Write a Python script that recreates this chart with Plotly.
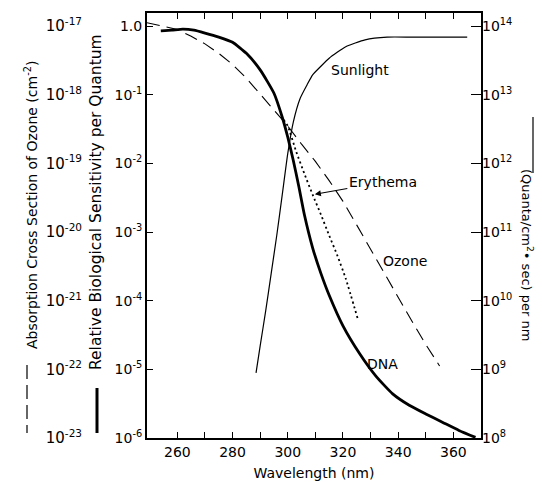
import plotly.graph_objects as go

# ---------------- data ----------------
wl_dna = [254, 258, 262, 266, 270, 275, 280, 285, 290, 295, 298, 300, 302, 304,
          306, 309, 312, 315, 320, 326, 332, 338, 344, 350, 356, 362, 368]
dna = [0.85, 0.87, 0.9, 0.87, 0.79, 0.69, 0.58, 0.40, 0.23, 0.105, 0.047, 0.024,
       0.011, 4.6e-3, 1.8e-3, 5.9e-4, 2.5e-4, 1.2e-4, 4.3e-5, 1.7e-5, 7.9e-6,
       4.4e-6, 3.0e-6, 2.24e-6, 1.7e-6, 1.29e-6, 1.02e-6]

wl_ery = [298.5, 300, 303, 306, 309, 312, 315, 318, 321, 325.5]
erythema = [0.043, 0.035, 0.015, 7.1e-3, 3.5e-3, 1.8e-3, 8.9e-4, 4.5e-4, 2.1e-4, 5.2e-5]

wl_ozone = [249, 255, 260, 265, 270, 275, 280, 285, 290, 295, 300, 305, 310, 315,
            320, 325, 330, 335, 340, 345, 350, 355]
ozone = [1.12e-17, 1.0e-17, 8.9e-18, 7.1e-18, 5.5e-18, 4.0e-18, 2.75e-18, 1.74e-18,
         1.02e-18, 6.0e-19, 3.5e-19, 1.9e-19, 1.07e-19, 5.6e-20, 2.8e-20, 1.26e-20,
         5.6e-21, 2.5e-21, 1.12e-21, 5.0e-22, 2.3e-22, 1.12e-22]

wl_sun = [288.5, 290, 292, 294, 296, 298, 300, 302, 304.5, 307, 309, 312, 315,
          321, 328, 336, 345, 355, 365]
sunlight = [8.9e8, 2.2e9, 7.1e9, 2.5e10, 8.9e10, 3.5e11, 1.4e12, 4.0e12, 8.9e12,
            1.4e13, 1.95e13, 2.6e13, 3.4e13, 5.0e13, 6.3e13, 6.9e13, 6.9e13,
            6.9e13, 6.9e13]

x_tickvals = list(range(260, 370, 10))
x_ticktext = [str(v) if v % 20 == 0 else "" for v in x_tickvals]

rel_tickvals = [1, 1e-1, 1e-2, 1e-3, 1e-4, 1e-5, 1e-6]
rel_ticktext = ["1.0", "10<sup>-1</sup>", "10<sup>-2</sup>", "10<sup>-3</sup>",
                "10<sup>-4</sup>", "10<sup>-5</sup>", "10<sup>-6</sup>"]
oz_tickvals = [1e-17, 1e-18, 1e-19, 1e-20, 1e-21, 1e-22, 1e-23]
oz_ticktext = ["10<sup>-17</sup>", "10<sup>-18</sup>", "10<sup>-19</sup>",
               "10<sup>-20</sup>", "10<sup>-21</sup>", "10<sup>-22</sup>",
               "10<sup>-23</sup>"]
sun_tickvals = [1e14, 1e13, 1e12, 1e11, 1e10, 1e9, 1e8]
sun_ticktext = ["10<sup>14</sup>", "10<sup>13</sup>", "10<sup>12</sup>",
                "10<sup>11</sup>", "10<sup>10</sup>", "10<sup>9</sup>",
                "10<sup>8</sup>"]

FONT = "DejaVu Sans"

# ---------------- geometry helpers (pixels -> paper) ----------------
L, R, T, B = 40, 481, 13, 438
def px(x):
    return (x - L) / (R - L)
def py(y):
    return (B - y) / (B - T)

fig = go.Figure()

fig.add_trace(go.Scatter(x=wl_ozone, y=ozone, yaxis="y2", mode="lines",
                         line=dict(color="black", width=1.1, dash="13px,7px"),
                         showlegend=False))
fig.add_trace(go.Scatter(x=wl_dna, y=dna, mode="lines",
                         line=dict(color="black", width=2.8, shape="spline", smoothing=0.5),
                         showlegend=False))
fig.add_trace(go.Scatter(x=wl_ery, y=erythema, mode="lines",
                         line=dict(color="black", width=1.8, dash="2px,3px",
                                   shape="spline", smoothing=0.5),
                         showlegend=False))
fig.add_trace(go.Scatter(x=wl_sun, y=sunlight, yaxis="y3", mode="lines",
                         line=dict(color="black", width=1.2, shape="spline", smoothing=0.5),
                         showlegend=False))

axis_font = dict(family=FONT, size=14, color="black")

fig.update_layout(
    width=542, height=482,
    margin=dict(l=L, r=542 - R, t=T, b=482 - B, autoexpand=False),
    paper_bgcolor="white", plot_bgcolor="white",
    font=dict(family=FONT, color="black"),
    xaxis=dict(domain=[px(147), 1], range=[249, 370], automargin=False,
               tickvals=x_tickvals, ticktext=x_ticktext,
               ticks="inside", ticklen=6, tickwidth=1.2, tickcolor="black",
               showline=True, linewidth=2, linecolor="black", mirror="ticks",
               showgrid=False, zeroline=False, tickfont=axis_font,
               title=dict(text="Wavelength (nm)", font=dict(family=FONT, size=14),
                          standoff=9)),
    yaxis=dict(type="log", range=[-6, 0.19], anchor="x", automargin=False,
               tickvals=rel_tickvals, ticktext=rel_ticktext,
               ticks="inside", ticklen=6, tickwidth=1.2, tickcolor="black",
               showline=True, linewidth=2, linecolor="black", mirror=True,
               showgrid=False, zeroline=False, tickfont=axis_font),
    yaxis2=dict(type="log", range=[-23, -16.81], overlaying="y", side="left",
                anchor="free", position=px(82), automargin=False,
                tickvals=oz_tickvals, ticktext=oz_ticktext, ticks="",
                showline=False, showgrid=False, zeroline=False,
                tickfont=dict(family=FONT, size=15, color="black")),
    yaxis3=dict(type="log", range=[8, 14.19], overlaying="y", side="right",
                anchor="x", automargin=False,
                tickvals=sun_tickvals, ticktext=sun_ticktext,
                ticks="inside", ticklen=10, tickwidth=1.2, tickcolor="black",
                showline=False, showgrid=False, zeroline=False, tickfont=axis_font),
)

lab_font = dict(family=FONT, size=14, color="black")
def plabel(text, x, y, **kw):
    d = dict(x=px(x), y=py(y), xref="paper", yref="paper", showarrow=False,
             xanchor="center", yanchor="middle", text=text, font=lab_font)
    d.update(kw)
    return d

annotations = [
    plabel("Absorption Cross Section of Ozone (cm<sup>-2</sup>)", 31, 205, textangle=-90),
    plabel("Relative Biological Sensitivity per Quantum", 96, 202, textangle=-90,
           font=dict(family=FONT, size=15.5, color="black")),
    plabel("(Quanta/cm<sup>2</sup>• sec) per nm", 527, 255, textangle=90,
           font=dict(family=FONT, size=13, color="black")),
    plabel("Sunlight", 360, 70),
    plabel("Ozone", 405, 261),
    plabel("DNA", 382, 364),
    dict(x=309.8, y=-2.45, xref="x", yref="y", text="Erythema", font=lab_font,
         xanchor="center", yanchor="middle",
         showarrow=True, arrowhead=2, arrowsize=1.1, arrowwidth=1.1,
         arrowcolor="black", ax=68, ay=-12),
]
fig.update_layout(annotations=annotations)

shapes = [
    dict(type="line", xref="paper", yref="paper", x0=px(27), x1=px(27),
         y0=py(365), y1=py(433), line=dict(color="black", width=1.2, dash="14px,6px")),
    dict(type="line", xref="paper", yref="paper", x0=px(97), x1=px(97),
         y0=py(388), y1=py(433), line=dict(color="black", width=3)),
    dict(type="line", xref="paper", yref="paper", x0=px(533), x1=px(533),
         y0=py(117), y1=py(173), line=dict(color="black", width=1.2)),
]
fig.update_layout(shapes=shapes)

fig.write_html("out.html")
